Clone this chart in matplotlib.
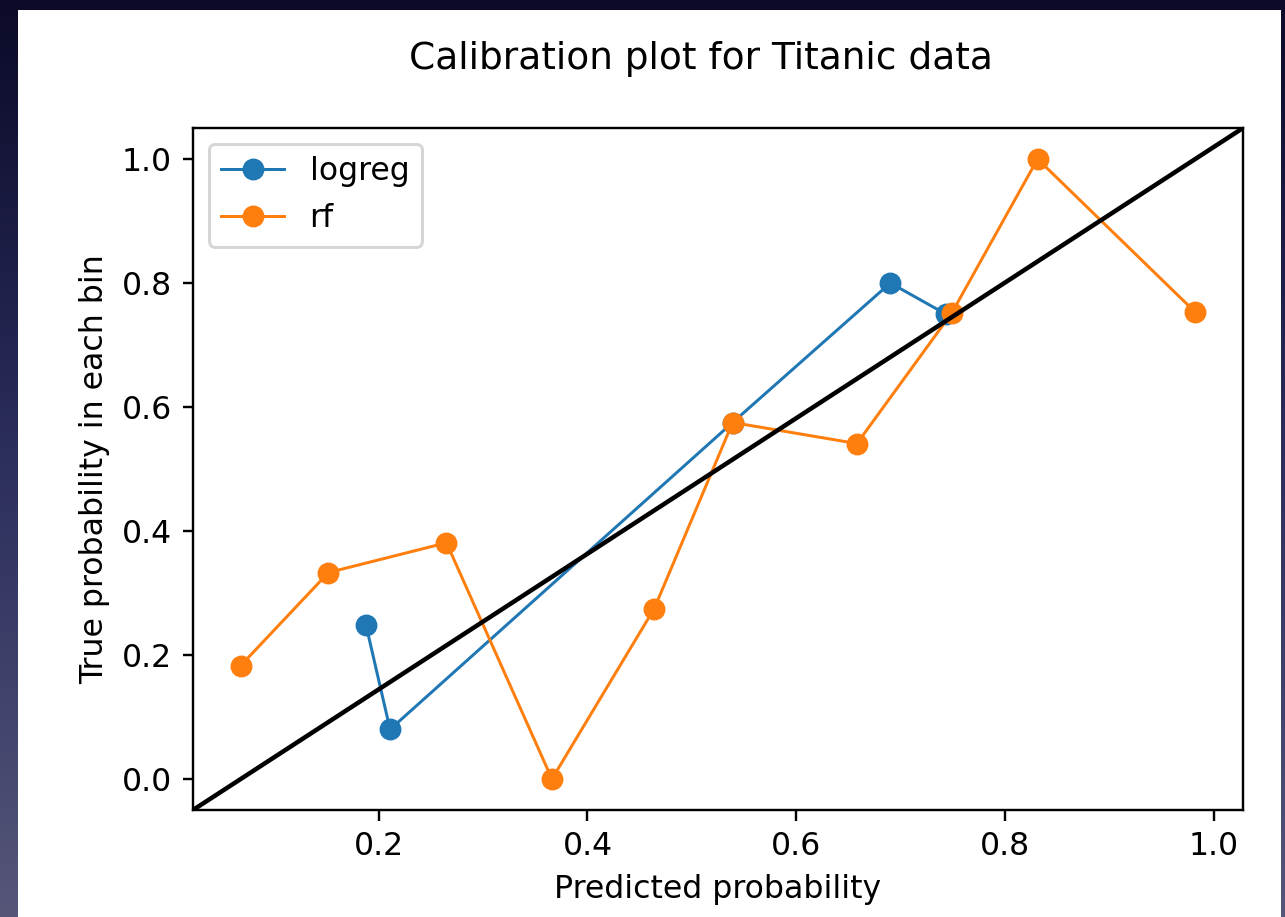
import numpy as np
import matplotlib
matplotlib.use("Agg")
import matplotlib.pyplot as plt
import matplotlib.lines as mlines
from matplotlib.colors import LinearSegmentedColormap
from matplotlib.patches import Rectangle

# Data
logreg_pred = [0.188, 0.211, 0.539, 0.690, 0.743]
logreg_true = [0.248, 0.080, 0.575, 0.800, 0.750]
rf_pred = [0.068, 0.152, 0.265, 0.366, 0.464, 0.539, 0.658, 0.749, 0.831, 0.982]
rf_true = [0.183, 0.333, 0.381, 0.000, 0.275, 0.575, 0.541, 0.752, 1.000, 0.753]
labels = ["logreg", "rf"]
title = "Calibration plot for Titanic data"
xlabel = "Predicted probability"
ylabel = "True probability in each bin"

plt.rcParams["font.size"] = 10.5
plt.rcParams["lines.markersize"] = 6.3

W, H, DPI = 1285, 917, 216
fig = plt.figure(figsize=(W / DPI, H / DPI), dpi=DPI)

# screenshot-like dark gradient background
bg = fig.add_axes([0, 0, 1, 1], zorder=-10)
cmap = LinearSegmentedColormap.from_list("bg", ["#0b0a28", "#2c2e5d", "#555678"])
grad = np.linspace(0, 1, 256).reshape(-1, 1)
bg.imshow(grad, aspect="auto", cmap=cmap, extent=[0, 1, 1, 0])
bg.set_xlim(0, 1)
bg.set_ylim(1, 0)
bg.add_patch(Rectangle((18 / W, 10 / H), (1281 - 18) / W, 1 - 10 / H,
                       facecolor="white", edgecolor="none"))
bg.axis("off")

ax = fig.add_axes([193 / W, 1 - 810 / H, (1243 - 193) / W, (810 - 128) / H])
ax.plot(logreg_pred, logreg_true, marker="o", linewidth=1, label=labels[0], color="tab:blue")
ax.plot(rf_pred, rf_true, marker="o", linewidth=1, label=labels[1], color="tab:orange")
line = mlines.Line2D([0, 1], [0, 1], color="black")
line.set_transform(ax.transAxes)
ax.add_line(line)

ax.set_xlabel(xlabel)
ax.set_ylabel(ylabel)
ax.legend(loc="upper left")
fig.text(701 / W, 1 - 69 / H, title, ha="center", va="baseline", fontsize=12.5)

fig.savefig("out.png", dpi=DPI)
